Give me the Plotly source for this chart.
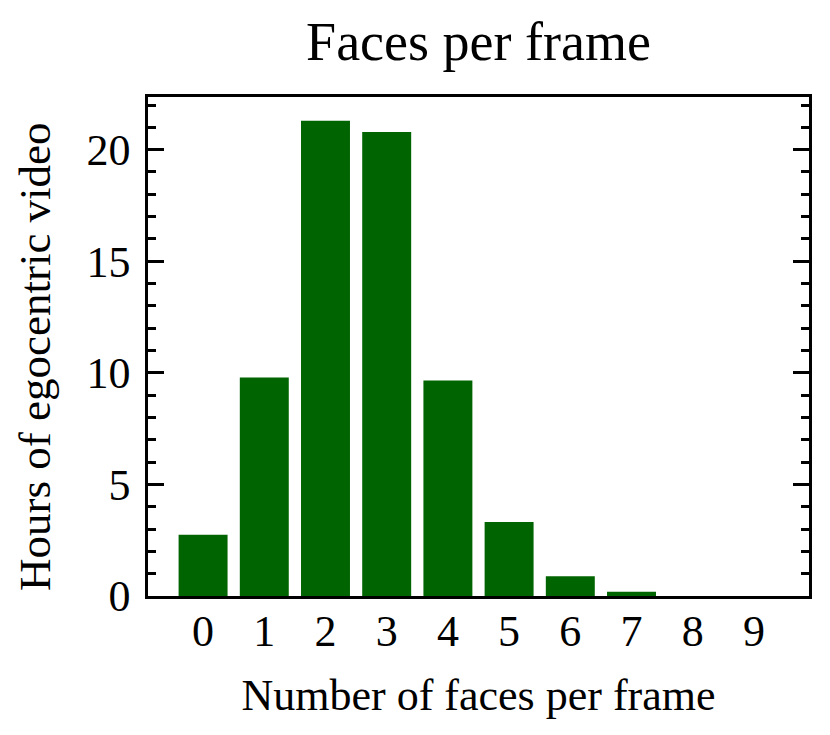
import plotly.graph_objects as go

faces = [0, 1, 2, 3, 4, 5, 6, 7, 8, 9]
hours = [2.74, 9.79, 21.30, 20.79, 9.66, 3.32, 0.89, 0.19, 0.0, 0.0]
y_ticks = [0, 5, 10, 15, 20]

FONT = "Liberation Serif, Times New Roman, serif"

fig = go.Figure(go.Bar(
    x=faces, y=hours, width=0.8,
    marker=dict(color="#006400", line=dict(width=0)),
))

W, H = 822, 727  # page has 8px body margin
L, R, T, B = 140, 21, 89, 139
PW, PH = W - L - R, H - T - B
fig.update_layout(
    width=W, height=H,
    paper_bgcolor="white", plot_bgcolor="white",
    margin=dict(l=L, r=R, t=T, b=B, autoexpand=False),
    font=dict(family=FONT, size=44, color="black"),
    title=dict(text="Faces per frame", x=0.5, xref="paper", xanchor="center",
               y=1 - 33 / H, yref="container", yanchor="middle",
               font=dict(family=FONT, size=54, color="black")),
    showlegend=False,
    annotations=[dict(
        text="Hours of egocentric video", textangle=-90,
        xref="paper", yref="paper",
        x=(1 - L) / PW, y=1 - (349 - T) / PH,
        xanchor="left", yanchor="middle", showarrow=False, borderpad=0,
        font=dict(family=FONT, size=45, color="black"),
    )],
)

fig.update_xaxes(
    range=[-0.9, 9.9], tickmode="array", tickvals=faces,
    ticktext=[str(v) for v in faces], ticks="",
    showline=True, linecolor="black", linewidth=2.5, mirror=True,
    showgrid=False, zeroline=False, automargin=False,
    ticklabelstandoff=-6,
    title=dict(text="Number of faces per frame", standoff=25,
               font=dict(family=FONT, size=44)),
    tickfont=dict(family=FONT, size=44),
)

fig.update_yaxes(
    range=[0, 22.36], tickmode="array", tickvals=y_ticks,
    ticks="inside", ticklen=16, tickwidth=2.5, tickcolor="black",
    minor=dict(dtick=1, ticks="inside", ticklen=8, tickwidth=2.5, tickcolor="black", showgrid=False),
    showline=True, linecolor="black", linewidth=2.5, mirror="ticks",
    showgrid=False, zeroline=False, automargin=False,
    ticklabelstandoff=6,
    tickfont=dict(family=FONT, size=44),
)

fig.write_html("out.html")
